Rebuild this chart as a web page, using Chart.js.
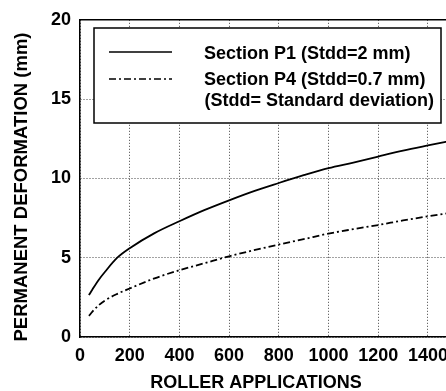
<!DOCTYPE html>
<html>
<head>
<meta charset="utf-8">
<script src="https://cdn.jsdelivr.net/npm/chart.js@4/dist/chart.umd.min.js"></script>
<style>
  html, body { margin: 0; padding: 0; background: #fff; overflow: hidden; }
  #wrap { width: 456px; height: 391px; }
</style>
</head>
<body>
<div id="wrap"><canvas id="c" width="456" height="391"></canvas></div>
<script>
// roller applications (x) and permanent deformation in mm (y)
const rollerApps = [36, 50, 75, 100, 150, 200, 300, 400, 500, 600, 700, 800, 900, 1000, 1100, 1200, 1300, 1400, 1500];
const sectionP1 = [2.64, 3.0, 3.6, 4.1, 5.0, 5.6, 6.55, 7.3, 8.0, 8.62, 9.2, 9.71, 10.2, 10.65, 11.0, 11.38, 11.75, 12.08, 12.4];
const sectionP4 = [1.33, 1.6, 2.0, 2.3, 2.72, 3.06, 3.7, 4.21, 4.65, 5.09, 5.47, 5.83, 6.17, 6.52, 6.8, 7.06, 7.35, 7.61, 7.85];
const xTickValues = [0, 200, 400, 600, 800, 1000, 1200, 1400];
const yTickValues = [0, 5, 10, 15, 20];
const legendLabels = ['Section P1 (Stdd=2 mm)', 'Section P4 (Stdd=0.7 mm)', '(Stdd= Standard deviation)'];
const xTitle = 'ROLLER APPLICATIONS';
const yTitle = 'PERMANENT DEFORMATION (mm)';

const FONT = "'Liberation Sans', Arial, Helvetica, sans-serif";
const toPoints = (xs, ys) => xs.map((x, i) => ({ x: x, y: ys[i] }));

// top frame line, axis titles and the boxed legend
const framePlugin = {
    id: 'frame',
    afterDraw(chart) {
        const ctx = chart.ctx;
        const a = chart.chartArea;
        ctx.save();
        ctx.strokeStyle = '#000';
        ctx.lineWidth = 1.5;
        ctx.beginPath();
        ctx.moveTo(a.left, a.top);
        ctx.lineTo(a.right, a.top);
        ctx.stroke();

        // axis titles
        ctx.fillStyle = '#000';
        ctx.textAlign = 'center';
        ctx.textBaseline = 'middle';
        ctx.font = 'bold 18px ' + FONT;
        ctx.fillText(xTitle, 256, 383);
        ctx.save();
        ctx.translate(22, 187);
        ctx.rotate(-Math.PI / 2);
        ctx.font = 'bold 18.5px ' + FONT;
        ctx.fillText(yTitle, 0, 0);
        ctx.restore();

        // legend box
        ctx.fillStyle = '#fff';
        ctx.fillRect(94, 28, 347, 95);
        ctx.strokeRect(94, 28, 347, 95);

        ctx.lineWidth = 1.5;
        ctx.beginPath();
        ctx.moveTo(109, 52); ctx.lineTo(172, 52);
        ctx.stroke();
        ctx.setLineDash([7, 3, 2, 3]);
        ctx.beginPath();
        ctx.moveTo(109, 79); ctx.lineTo(172, 79);
        ctx.stroke();
        ctx.setLineDash([]);

        ctx.fillStyle = '#000';
        ctx.font = 'bold 18px ' + FONT;
        ctx.textAlign = 'left';
        ctx.fillText(legendLabels[0], 204, 54);
        ctx.fillText(legendLabels[1], 204, 80);
        ctx.textAlign = 'right';
        ctx.fillText(legendLabels[2], 434, 101);
        ctx.restore();
    }
};

new Chart(document.getElementById('c'), {
    type: 'line',
    data: {
        datasets: [{
            label: legendLabels[0],
            data: toPoints(rollerApps, sectionP1),
            borderColor: '#000',
            borderWidth: 1.8,
            pointRadius: 0,
            cubicInterpolationMode: 'monotone'
        }, {
            label: legendLabels[1],
            data: toPoints(rollerApps, sectionP4),
            borderColor: '#000',
            borderWidth: 1.8,
            borderDash: [7, 3, 2, 3],
            pointRadius: 0,
            cubicInterpolationMode: 'monotone'
        }]
    },
    options: {
        responsive: false,
        animation: false,
        layout: { padding: { top: 19, right: 1, left: 0, bottom: 0 } },
        plugins: { legend: { display: false }, tooltip: { enabled: false } },
        scales: {
            x: {
                type: 'linear',
                min: 0,
                max: 1500,
                afterBuildTicks(scale) {
                    scale.ticks = xTickValues.map(v => ({ value: v }));
                },
                afterFit(scale) { scale.height = 54; },
                ticks: {
                    autoSkip: false,
                    color: '#000',
                    padding: 8,
                    maxRotation: 0,
                    callback: v => String(v),
                    font: { family: FONT, size: 18, weight: 'bold' }
                },
                grid: { color: '#444', drawTicks: false, lineWidth: 1 },
                border: { color: '#000', width: 1.5, dash: [1, 2] }
            },
            y: {
                min: 0,
                max: 20,
                afterBuildTicks(scale) {
                    scale.ticks = yTickValues.map(v => ({ value: v }));
                },
                afterFit(scale) { scale.width = 80; },
                ticks: {
                    color: '#000',
                    padding: 9,
                    font: { family: FONT, size: 18, weight: 'bold' }
                },
                grid: { color: '#444', drawTicks: false, lineWidth: 1 },
                border: { color: '#000', width: 1.5, dash: [1, 2] }
            }
        }
    },
    plugins: [framePlugin]
});
</script>
</body>
</html>
